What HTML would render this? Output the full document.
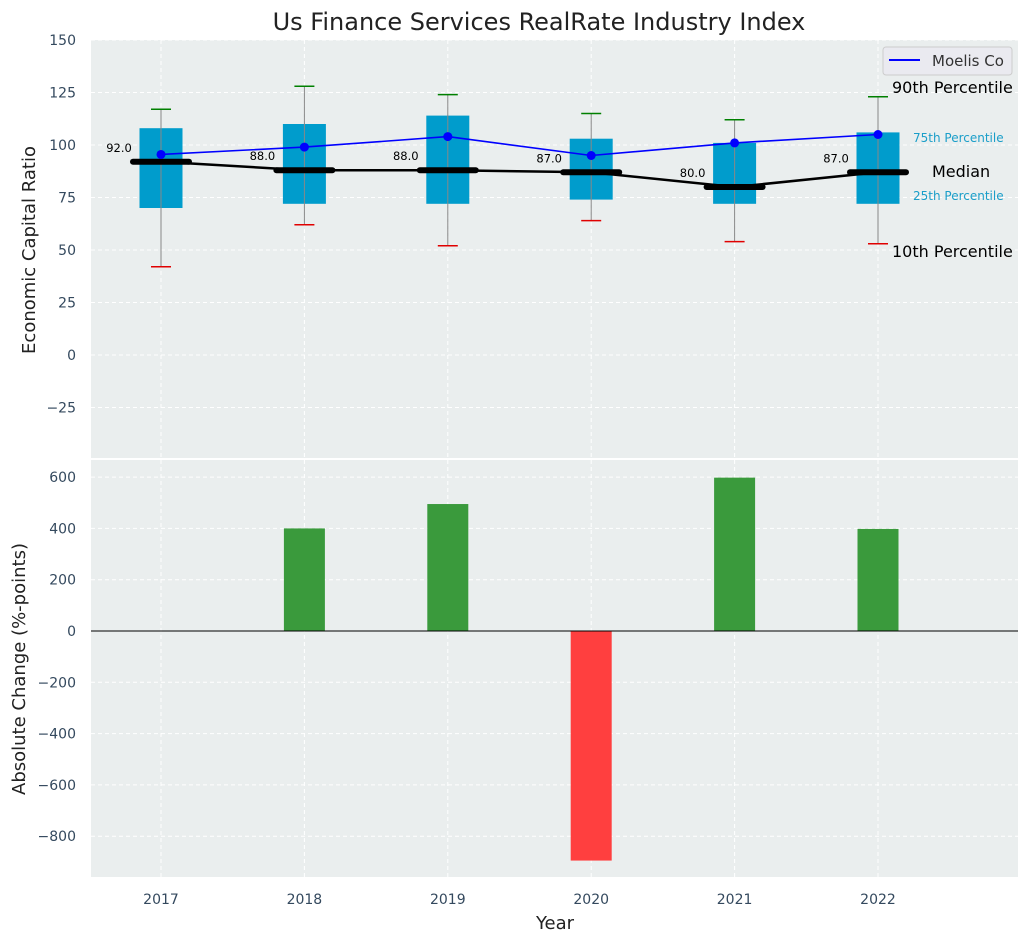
<!DOCTYPE html>
<html><head><meta charset="utf-8"><style>
body{margin:0;background:#fff;font-family:"DejaVu Sans","Liberation Sans",sans-serif}
</style></head><body>
<svg id="c" width="1029" height="942" xmlns="http://www.w3.org/2000/svg" font-family="DejaVu Sans, Liberation Sans, sans-serif">
<text x="539" y="30" text-anchor="middle" font-size="24" fill="#222">Us Finance Services RealRate Industry Index</text>
<rect x="91" y="40" width="927" height="418" fill="#eaeeee"/>
<rect x="91" y="460" width="927" height="417" fill="#eaeeee"/>
<g id="g"></g>
<text transform="translate(35,250) rotate(-90)" text-anchor="middle" font-size="18" fill="#222">Economic Capital Ratio</text>
<text transform="translate(25,669) rotate(-90)" text-anchor="middle" font-size="18" fill="#222">Absolute Change (%-points)</text>
<text x="555" y="929" text-anchor="middle" font-size="18" fill="#222">Year</text>
<g>
<rect x="883" y="47" width="129" height="28" rx="3" fill="#eaeaf0" stroke="#ccc"/>
<line x1="889" y1="60" x2="920" y2="60" stroke="#0000ff" stroke-width="2"/>
<text x="932" y="66" font-size="15" fill="#333">Moelis Co</text>
</g>
<text x="892" y="93" font-size="16" fill="#000">90th Percentile</text>
<text x="913" y="142" font-size="12" fill="#1a9ec9">75th Percentile</text>
<text x="932" y="177" font-size="16" fill="#000">Median</text>
<text x="913" y="200" font-size="12" fill="#1a9ec9">25th Percentile</text>
<text x="892" y="257" font-size="16" fill="#000">10th Percentile</text>
</svg>
<script>
const years=[2017,2018,2019,2020,2021,2022];
const p10=[42,62,52,64,54,53];
const p25=[70,72,72,74,72,72];
const medians=[92,88,88,87,80,87];
const p75=[108,110,114,103,101,106];
const p90=[117,128,124,115,112,123];
const moelis=[95.5,99,104,95,101,105];
const changes=[0,400,495,-895,598,398];
const yTicksTop=[150,125,100,75,50,25,0,-25];
const yTicksBot=[600,400,200,0,-200,-400,-600,-800];
const NS="http://www.w3.org/2000/svg";
const g=document.getElementById('g');
const X=v=>161+(v-2017)*143.4;
const YT=v=>355-v*2.1;
const YB=v=>631-v*0.2565;
function mk(t,a,p){const e=document.createElementNS(NS,t);for(const k in a)e.setAttribute(k,a[k]);(p||g).appendChild(e);return e;}
yTicksTop.forEach(t=>{const y=YT(t);
 const l=mk('line',{x1:91,x2:1018,y1:y,y2:y,stroke:'#fff','stroke-dasharray':'4,3'});
 
 
 const tx=mk('text',{x:76,y:y+5,'text-anchor':'end','font-size':14,fill:'#34495e'});tx.textContent=t<0?'\u2212'+(-t):t;
 
 });
yTicksBot.forEach(t=>{const y=YB(t);
 const l=mk('line',{x1:91,x2:1018,y1:y,y2:y,stroke:'#fff','stroke-dasharray':'4,3'});
 
 
 const tx=mk('text',{x:76,y:y+5,'text-anchor':'end','font-size':14,fill:'#34495e'});tx.textContent=t<0?'\u2212'+(-t):t;
 
 });
years.forEach(yr=>{const x=X(yr);
 [[40,458],[460,877]].forEach(r=>{const l=mk('line',{x1:x,x2:x,y1:r[0],y2:r[1],stroke:'#fff','stroke-dasharray':'4,3'});
 
 });
 const tx=mk('text',{x:x,y:904,'text-anchor':'middle','font-size':14,fill:'#34495e'});tx.textContent=yr;
 
 });
// bars
changes.forEach((v,i)=>{if(!v)return;const x=X(years[i]);
 const r=mk('rect',{x:x-20.5,width:41,y:Math.min(YB(v),YB(0)),height:Math.abs(YB(v)-YB(0)),fill:v>0?'#3a9a3c':'#ff3f3f'});
 
 });
const zl=mk('line',{x1:91,x2:1018,y1:YB(0),y2:YB(0),stroke:'#000','stroke-width':1});


// boxes
years.forEach((yr,i)=>{const x=X(yr);
 const b=mk('rect',{x:x-21.5,width:43,y:YT(p75[i]),height:YT(p25[i])-YT(p75[i]),fill:'#009ccc'});
 
 
 const w=mk('line',{x1:x,x2:x,y1:YT(p90[i]),y2:YT(p10[i]),stroke:'#888','stroke-width':1});
 
 
 const c1=mk('line',{x1:x-10,x2:x+10,y1:YT(p90[i]),y2:YT(p90[i]),stroke:'#008000','stroke-width':1.5});
 
 
 const c2=mk('line',{x1:x-10,x2:x+10,y1:YT(p10[i]),y2:YT(p10[i]),stroke:'#e00000','stroke-width':1.5});
 
 });
const mp=mk('polyline',{points:medians.map((v,i)=>X(years[i])+','+YT(v)).join(' '),fill:'none',stroke:'#000','stroke-width':2.5});


years.forEach((yr,i)=>{const x=X(yr),y=YT(medians[i]);
 const m=mk('line',{x1:x-28,x2:x+28,y1:y,y2:y,stroke:'#000','stroke-width':6,'stroke-linecap':'round'});
 
 
 const t=mk('text',{x:x-42,y:y-10,'text-anchor':'middle','font-size':11.5,fill:'#000'});t.textContent=medians[i].toFixed(1);
 
 });
const ml=mk('polyline',{points:moelis.map((v,i)=>X(years[i])+','+YT(v)).join(' '),fill:'none',stroke:'#0000ff','stroke-width':1.6});


moelis.forEach((v,i)=>{const c=mk('circle',{cx:X(years[i]),cy:YT(v),r:4.5,fill:'#0000ff'});
 
 });
</script>
</body></html>
